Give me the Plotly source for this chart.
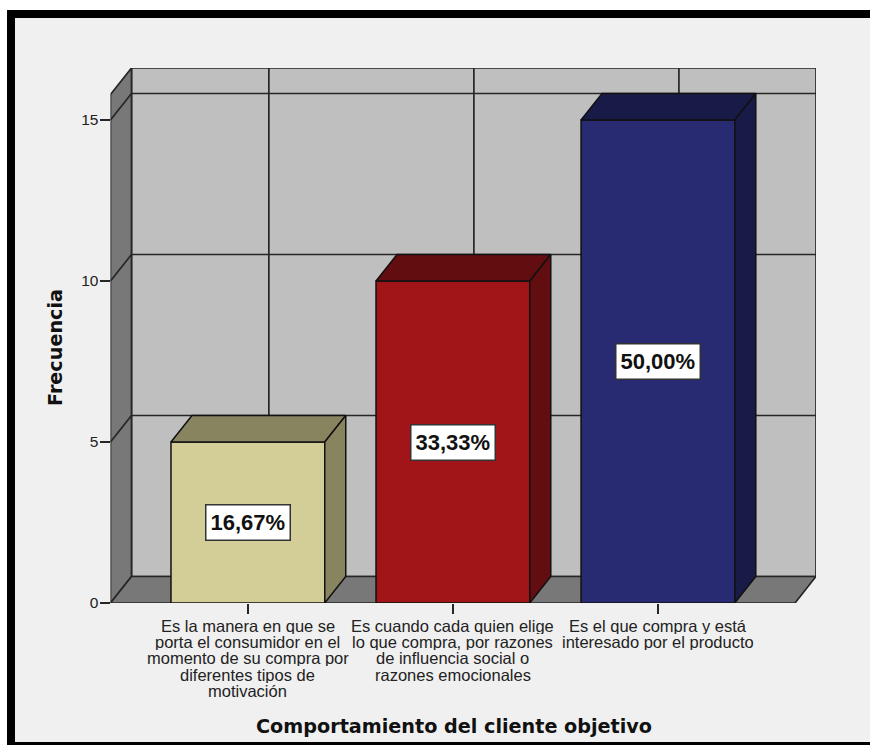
import plotly.graph_objects as go

# Survey counts and the percentage shown on each bar
categories = [
    ["Es la manera en que se", "porta el consumidor en el", "momento de su compra por",
     "diferentes tipos de", "motivación"],
    ["Es cuando cada quien elige", "lo que compra, por razones", "de influencia social o",
     "razones emocionales"],
    ["Es el que compra y está", "interesado por el producto"],
]
frequencies = [5, 10, 15]
percent_labels = ["16,67%", "33,33%", "50,00%"]
y_ticks = [0, 5, 10, 15]
x_title = "Comportamiento del cliente objetivo"
y_title = "Frecuencia"

front_colors = ["#d3ce97", "#a11417", "#282a72"]
shade_colors = ["#87845f", "#620d10", "#181a47"]

WIDTH, HEIGHT = 870, 745
BAR_WIDTH = 0.75
DEPTH_X = 0.1024   # oblique depth of the 3-D box, category units
DEPTH_Y = 0.823    # oblique depth of the 3-D box, frequency units
X_MIN, X_MAX = -0.67, 2.771
Y_MAX = 16.615
WALL_TOP = Y_MAX - DEPTH_Y
FLOOR_RIGHT = X_MAX - DEPTH_X

LINE = "#262626"
WALL = "#bfbfbf"
SIDE = "#787878"
BACKGROUND = "#f0f0f0"
TEXT = "#222222"


def polygon(xs, ys, fill, layer="below", width=1.7, color=LINE):
    path = "M" + " L".join(f"{x},{y}" for x, y in zip(xs, ys)) + " Z"
    return dict(type="path", path=path, xref="x", yref="y", layer=layer,
                fillcolor=fill, line=dict(color=color, width=width))


def segment(x0, y0, x1, y1, width=1.7):
    return dict(type="line", x0=x0, y0=y0, x1=x1, y1=y1, xref="x", yref="y",
                layer="below", line=dict(color=LINE, width=width))


x_back = X_MIN + DEPTH_X
shapes = [
    # Outer picture frame
    dict(type="rect", xref="paper", yref="paper", x0=0, x1=1, y0=0, y1=1,
         fillcolor="#000000", line_width=0, layer="below"),
    dict(type="rect", xref="paper", yref="paper", x0=0, x1=7 / WIDTH, y0=0, y1=1,
         fillcolor="#ffffff", line_width=0, layer="below"),
    dict(type="rect", xref="paper", yref="paper", x0=0, x1=1, y0=1 - 10 / HEIGHT, y1=1,
         fillcolor="#ffffff", line_width=0, layer="below"),
    dict(type="rect", xref="paper", yref="paper", x0=15 / WIDTH, x1=1,
         y0=3 / HEIGHT, y1=1 - 18 / HEIGHT,
         fillcolor=BACKGROUND, line_width=0, layer="below"),
    # Back wall, left wall and floor of the box
    polygon([x_back, X_MAX, X_MAX, x_back], [DEPTH_Y, DEPTH_Y, Y_MAX, Y_MAX], WALL),
    polygon([X_MIN, x_back, x_back, X_MIN], [0, DEPTH_Y, Y_MAX, WALL_TOP], SIDE),
    polygon([X_MIN, FLOOR_RIGHT, X_MAX, x_back], [0, 0, DEPTH_Y, DEPTH_Y], SIDE),
]
# Grid on the back wall, wrapping onto the left wall
for value in y_ticks[1:]:
    shapes.append(segment(x_back, value + DEPTH_Y, X_MAX, value + DEPTH_Y))
    shapes.append(segment(X_MIN, value, x_back, value + DEPTH_Y))
for i in range(len(categories)):
    shapes.append(segment(i + DEPTH_X, DEPTH_Y, i + DEPTH_X, Y_MAX))

fig = go.Figure()

# Front faces
fig.add_trace(go.Bar(
    x=list(range(len(frequencies))), y=frequencies, width=BAR_WIDTH,
    marker=dict(color=front_colors, line=dict(color="#111111", width=1.5)),
    showlegend=False, hoverinfo="skip",
))

# Top and side faces of each bar
for i, (value, shade) in enumerate(zip(frequencies, shade_colors)):
    left, right = i - BAR_WIDTH / 2, i + BAR_WIDTH / 2
    top_x = [left, right, right + DEPTH_X, left + DEPTH_X, left]
    top_y = [value, value, value + DEPTH_Y, value + DEPTH_Y, value]
    side_x = [right, right + DEPTH_X, right + DEPTH_X, right, right]
    side_y = [0, DEPTH_Y, value + DEPTH_Y, value, 0]
    for xs, ys in ((top_x, top_y), (side_x, side_y)):
        fig.add_trace(go.Scatter(
            x=xs, y=ys, mode="lines", fill="toself", fillcolor=shade,
            line=dict(color="#111111", width=1.5),
            showlegend=False, hoverinfo="skip",
        ))

annotations = []
# Percentage boxes at mid-height of the bars
for i, (value, label) in enumerate(zip(frequencies, percent_labels)):
    annotations.append(dict(
        x=i, y=value / 2, xref="x", yref="y", text=f"<b>{label}</b>", showarrow=False,
        font=dict(family="Liberation Sans", size=22, color="#111111"),
        bgcolor="#ffffff", bordercolor="#333333", borderwidth=1.5, borderpad=4,
        height=26, valign="middle",
    ))
# Category labels, one annotation per line for the tight leading
for i, lines in enumerate(categories):
    for n, line in enumerate(lines):
        annotations.append(dict(
            x=i, y=0, xref="x", yref="y", text=line, showarrow=False,
            yanchor="middle", yshift=-(23 + 16.2 * n), height=16,
            font=dict(family="Liberation Sans", size=16.5, color=TEXT),
        ))
# Axis titles, placed on the page so they do not push the plot margins
annotations.append(dict(
    x=453.5 / WIDTH, y=1 - 726 / HEIGHT, xref="paper", yref="paper",
    xanchor="center", yanchor="middle",
    text=f"<b>{x_title}</b>", showarrow=False,
    font=dict(family="DejaVu Sans", size=19.2, color="#111111"),
))
annotations.append(dict(
    x=55 / WIDTH, y=1 - 348 / HEIGHT, xref="paper", yref="paper",
    xanchor="center", yanchor="middle",
    text=f"<b>{y_title}</b>", showarrow=False, textangle=-90,
    font=dict(family="DejaVu Sans", size=19.2, color="#111111"),
))

fig.update_layout(
    width=WIDTH, height=HEIGHT,
    margin=dict(l=0, r=0, t=0, b=0, autoexpand=False),
    paper_bgcolor="#ffffff", plot_bgcolor="rgba(0,0,0,0)",
    shapes=shapes, annotations=annotations, bargap=0.25, showlegend=False,
    xaxis=dict(
        domain=[110.5 / WIDTH, 816 / WIDTH], range=[X_MIN, X_MAX],
        tickmode="array", tickvals=list(range(len(categories))), ticktext=["", "", ""],
        ticks="outside", ticklen=10, tickwidth=1.7, tickcolor=LINE,
        showgrid=False, zeroline=False, showline=False,
    ),
    yaxis=dict(
        domain=[1 - 603 / HEIGHT, 1 - 68 / HEIGHT], range=[0, Y_MAX],
        tickmode="array", tickvals=y_ticks, ticktext=[str(v) for v in y_ticks],
        ticks="outside", ticklen=10, tickwidth=1.7, tickcolor=LINE,
        tickfont=dict(family="Liberation Sans", size=15.5, color=TEXT),
        ticklabelstandoff=-2,
        showgrid=False, zeroline=False, showline=False,
    ),
)

fig.write_html("out.html")
